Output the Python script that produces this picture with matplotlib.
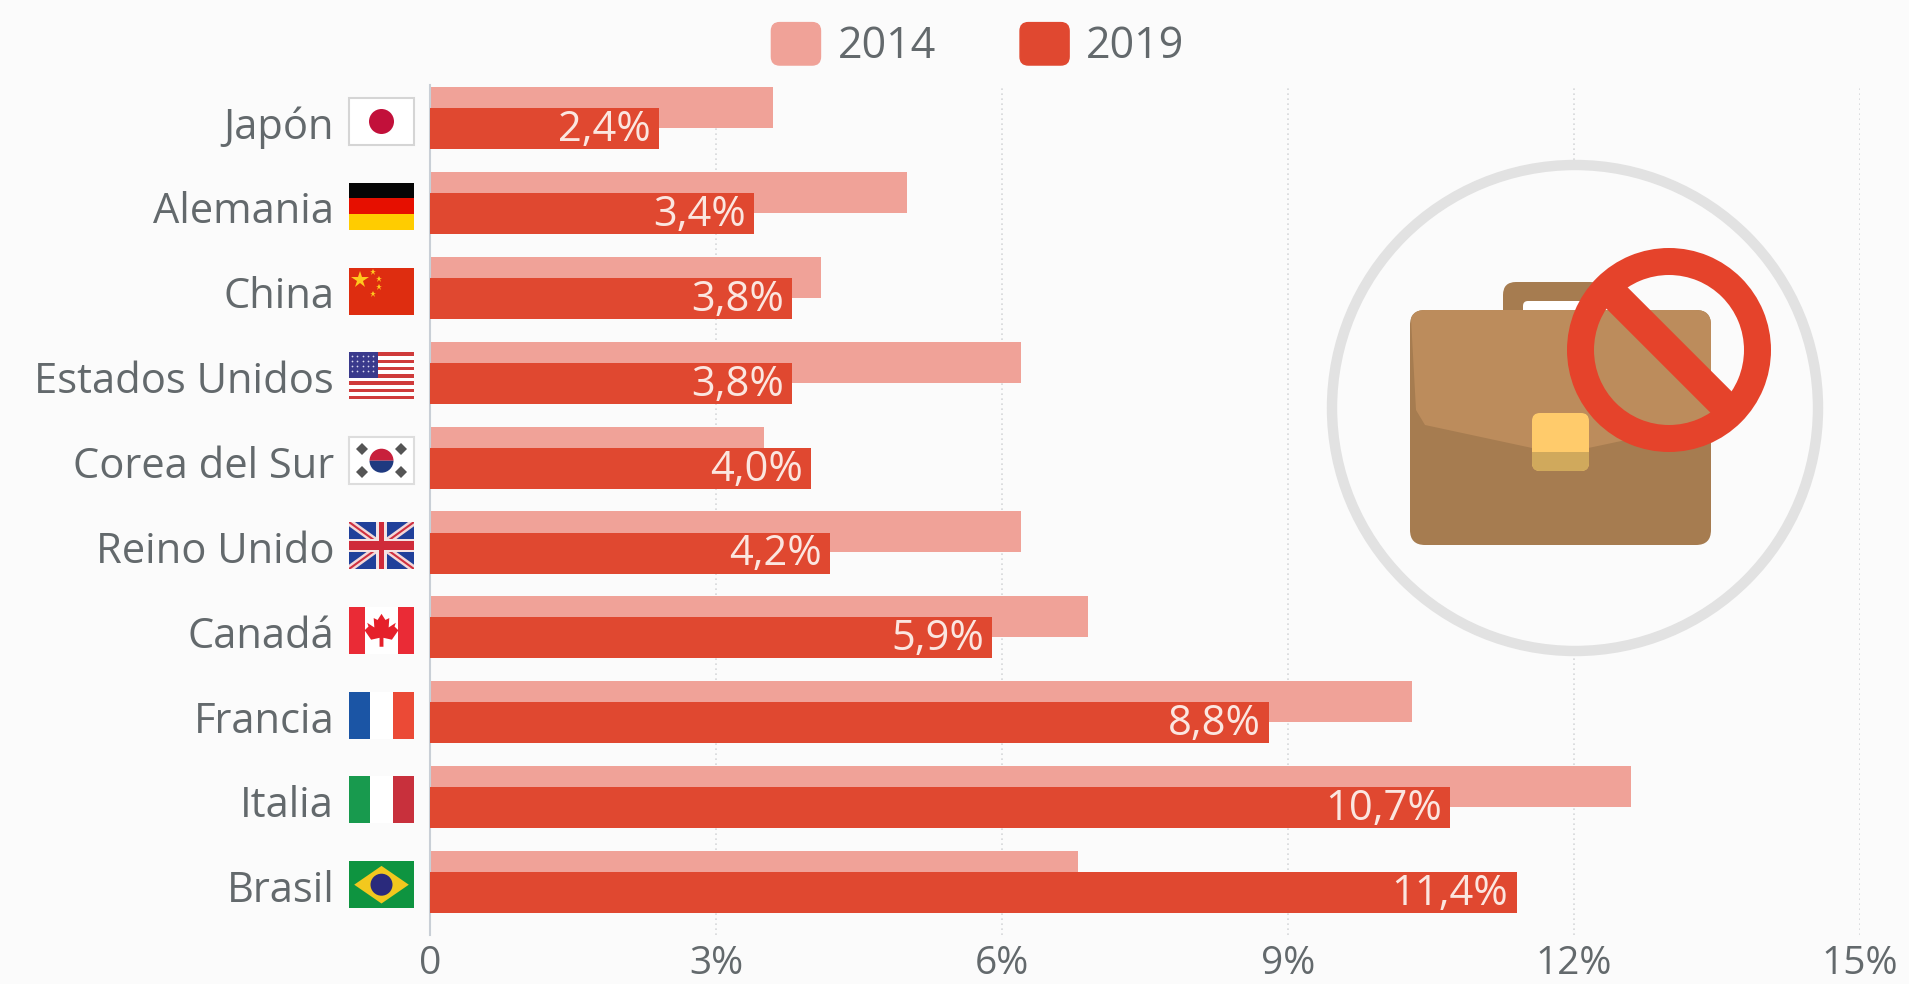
import numpy as np
import matplotlib
matplotlib.use("Agg")
import matplotlib.pyplot as plt
from matplotlib.patches import Circle, Wedge, Rectangle, Polygon, FancyBboxPatch, Patch
from matplotlib.legend_handler import HandlerPatch
from matplotlib.lines import Line2D

paises = ["Japón", "Alemania", "China", "Estados Unidos", "Corea del Sur",
          "Reino Unido", "Canadá", "Francia", "Italia", "Brasil"]
valores_2014 = [3.6, 5.0, 4.1, 6.2, 3.5, 6.2, 6.9, 10.3, 12.6, 6.8]
valores_2019 = [2.4, 3.4, 3.8, 3.8, 4.0, 4.2, 5.9, 8.8, 10.7, 11.4]
etiquetas_2019 = ["2,4%", "3,4%", "3,8%", "3,8%", "4,0%", "4,2%", "5,9%", "8,8%", "10,7%", "11,4%"]
ticks_x = [0, 3, 6, 9, 12, 15]
etiquetas_x = ["0", "3%", "6%", "9%", "12%", "15%"]

FONDO = "#FBFBFB"
CLARO = "#F0A298"
OSCURO = "#E04830"
GRIS = "#63696C"
W, H = 1909, 984

plt.rcParams["font.family"] = ["Open Sans", "DejaVu Sans"]

fig = plt.figure(figsize=(W / 100, H / 100), dpi=100, facecolor=FONDO)
ax = fig.add_axes([430 / W, 1 - 935 / H, 1430 / W, 850 / H], facecolor="none")

y = np.arange(len(paises))
ax.barh(y - 0.124, valores_2014, height=0.483, color=CLARO, zorder=2)
barras = ax.barh(y + 0.124, valores_2019, height=0.483, color=OSCURO, zorder=3)

for b, txt in zip(barras, etiquetas_2019):
    ax.annotate(txt, (b.get_width(), b.get_y() + b.get_height() / 2), xytext=(-6, -1),
                textcoords="offset points", ha="right", va="center",
                color="#FBE6E0", fontsize=30, zorder=4)

ax.set_xlim(0, 15)
ax.set_ylim(9.623, -0.389)
ax.set_xticks(ticks_x, etiquetas_x)
ax.set_yticks(y + 0.05, paises)
ax.tick_params(axis="x", length=0, labelsize=28, labelcolor=GRIS, pad=7)
ax.tick_params(axis="y", length=0, labelsize=30, labelcolor=GRIS, pad=69)
ax.grid(axis="x", color="#D6D8DA", linestyle=(0, (1, 2)), linewidth=1.2, zorder=0)
for lado in ["top", "right", "bottom"]:
    ax.spines[lado].set_visible(False)
ax.spines["left"].set_color("#C9CFD6")
ax.spines["left"].set_linewidth(1.5)


# leyenda con cuadros redondeados
def cuadro(legend, orig_handle, xdescent, ydescent, width, height, fontsize):
    return FancyBboxPatch((-xdescent + 5, -ydescent + 5), width - 10, height - 10,
                          boxstyle="round,pad=5,rounding_size=6")


fig.legend(handles=[Patch(color=CLARO), Patch(color=OSCURO)], labels=["2014", "2019"],
           ncol=2, frameon=False, loc="center", bbox_to_anchor=(978 / W, 1 - 46 / H),
           fontsize=31, labelcolor=GRIS, handlelength=1.14, handleheight=1.14,
           handletextpad=0.4, columnspacing=1.95,
           handler_map={Patch: HandlerPatch(patch_func=cuadro)})

# capa en pixeles para banderas e icono
ov = fig.add_axes([0, 0, 1, 1], facecolor="none", zorder=5)
ov.set_xlim(0, W)
ov.set_ylim(H, 0)
ov.axis("off")

FX0, FW, FH = 349, 65, 47


def bandera(i):
    """devuelve funcion (u, v) -> pixeles y el rectangulo de la fila i"""
    y0 = 121.5 + 84.8 * i - FH / 2
    rect = Rectangle((FX0, y0), FW, FH, fc="white", ec="none", zorder=6)
    ov.add_patch(rect)
    return (lambda u, v: (FX0 + u * FW, y0 + v * FH)), rect


def franja(f, u0, v0, u1, v1, color, z=7):
    p0 = f(u0, v0)
    p1 = f(u1, v1)
    ov.add_patch(Rectangle(p0, p1[0] - p0[0], p1[1] - p0[1], fc=color, ec="none", zorder=z))


# Japon
f, r = bandera(0)
r.set_edgecolor("#D5D5D5")
r.set_linewidth(1.5)
ov.add_patch(Circle(f(0.5, 0.5), 12.5, fc="#C2103A", zorder=7))
# Alemania
f, r = bandera(1)
for k, c in enumerate(["#050505", "#E60F00", "#FFCC00"]):
    franja(f, 0, k / 3, 1, (k + 1) / 3, c)
# China
f, r = bandera(2)
franja(f, 0, 0, 1, 1, "#DE2D10")
ov.plot(*f(0.17, 0.27), marker="*", ms=13, color="#FFC81E", mew=0, zorder=8)
for u, v in [(0.37, 0.1), (0.46, 0.24), (0.46, 0.42), (0.37, 0.56)]:
    ov.plot(*f(u, v), marker="*", ms=5, color="#FFC81E", mew=0, zorder=8)
# Estados Unidos
f, r = bandera(3)
for k in range(13):
    franja(f, 0, k / 13, 1, (k + 1) / 13, "#CF3B3B" if k % 2 == 0 else "#FFFFFF")
franja(f, 0, 0, 0.45, 7 / 13, "#3A3A8C", z=8)
for u in np.arange(0.05, 0.44, 0.08):
    for v in np.arange(0.07, 0.5, 0.11):
        ov.plot(*f(u, v), marker=".", ms=2.5, color="#DADAF0", mew=0, zorder=9)
# Corea del Sur
f, r = bandera(4)
r.set_edgecolor("#DDDDDD")
r.set_linewidth(1.5)
c = f(0.5, 0.5)
ov.add_patch(Wedge(c, 12, 180, 360, fc="#C8203C", zorder=7))
ov.add_patch(Wedge(c, 12, 0, 180, fc="#1F3A80", zorder=7))
for u, v in [(0.2, 0.25), (0.8, 0.25), (0.2, 0.75), (0.8, 0.75)]:
    ov.plot(*f(u, v), marker="D", ms=6.5, color="#555555", mew=0, zorder=8)
# Reino Unido
f, r = bandera(5)
franja(f, 0, 0, 1, 1, "#20409A")
for a, b in [((0, 0), (1, 1)), ((0, 1), (1, 0))]:
    xs, ys = zip(f(*a), f(*b))
    l1 = Line2D(xs, ys, color="#F4D8D8", lw=5, zorder=8)
    l2 = Line2D(xs, ys, color="#CF3040", lw=1.5, zorder=8)
    for l in (l1, l2):
        ov.add_line(l)
        l.set_clip_path(r)
franja(f, 0.42, 0, 0.58, 1, "#F4E4E4", z=9)
franja(f, 0, 0.36, 1, 0.64, "#F4E4E4", z=9)
franja(f, 0.46, 0, 0.54, 1, "#CF2B3A", z=10)
franja(f, 0, 0.41, 1, 0.59, "#CF2B3A", z=10)
# Canada
f, r = bandera(6)
franja(f, 0, 0, 0.25, 1, "#EA2B36")
franja(f, 0.75, 0, 1, 1, "#EA2B36")
hoja_u = [0.5, 0.56, 0.62, 0.61, 0.72, 0.70, 0.76, 0.66, 0.53, 0.53,
          0.47, 0.47, 0.34, 0.24, 0.30, 0.28, 0.39, 0.38, 0.44]
hoja_v = [0.15, 0.28, 0.24, 0.44, 0.34, 0.42, 0.50, 0.70, 0.66, 0.85,
          0.85, 0.66, 0.70, 0.50, 0.42, 0.34, 0.44, 0.24, 0.28]
ov.add_patch(Polygon([f(u, v) for u, v in zip(hoja_u, hoja_v)], fc="#E5202A", zorder=8))
# Francia
f, r = bandera(7)
franja(f, 0, 0, 0.33, 1, "#1B55A5")
franja(f, 0.67, 0, 1, 1, "#EB4A36")
# Italia
f, r = bandera(8)
franja(f, 0, 0, 0.33, 1, "#189A4E")
franja(f, 0.67, 0, 1, 1, "#C8303C")
# Brasil
f, r = bandera(9)
franja(f, 0, 0, 1, 1, "#0E9440")
ov.add_patch(Polygon([f(0.08, 0.5), f(0.5, 0.1), f(0.92, 0.5), f(0.5, 0.9)], fc="#F2C81E", zorder=8))
ov.add_patch(Circle(f(0.5, 0.5), 11, fc="#2A2A7C", zorder=9))

# icono del maletin
ov.add_patch(Circle((1575, 408), 243, fc=FONDO, ec="#E2E2E2", lw=7.5, zorder=6))
ov.add_patch(FancyBboxPatch((1503, 282), 100, 46, boxstyle="round,pad=0,rounding_size=13",
                            fc="#A67C50", ec="none", zorder=7))
ov.add_patch(FancyBboxPatch((1523, 301), 72, 20, boxstyle="round,pad=0,rounding_size=5",
                            fc="white", ec="none", zorder=7))
maletin = FancyBboxPatch((1410, 310), 301, 235, boxstyle="round,pad=0,rounding_size=15",
                         fc="#A67C50", ec="none", zorder=8)
ov.add_patch(maletin)
solapa = Polygon([(1410, 300), (1711, 300), (1711, 422), (1560, 454), (1425, 425), (1416, 410)],
                 fc="#BC8C5C", ec="none", zorder=9)
ov.add_patch(solapa)
solapa.set_clip_path(maletin)
ov.add_patch(FancyBboxPatch((1532, 413), 57, 58, boxstyle="round,pad=0,rounding_size=8",
                            fc="#FFCB6B", ec="none", zorder=10))
broche = FancyBboxPatch((1532, 413), 57, 58, boxstyle="round,pad=0,rounding_size=8",
                        fc="#D0A95C", ec="none", zorder=11)
ov.add_patch(broche)
corte = Rectangle((1532, 452), 57, 20, transform=ov.transData)
broche.set_clip_path(corte)

cx, cy = 1669, 350
ov.add_patch(Wedge((cx, cy), 102, 0, 360, width=27, fc="#E5432B", ec="none", zorder=12))
d = 80 * np.cos(np.pi / 4)
ov.add_line(Line2D([cx - d, cx + d], [cy - d, cy + d], color="#E5432B", lw=21.6,
                   solid_capstyle="butt", zorder=12))

fig.savefig("out.png", dpi=100, facecolor=FONDO)
